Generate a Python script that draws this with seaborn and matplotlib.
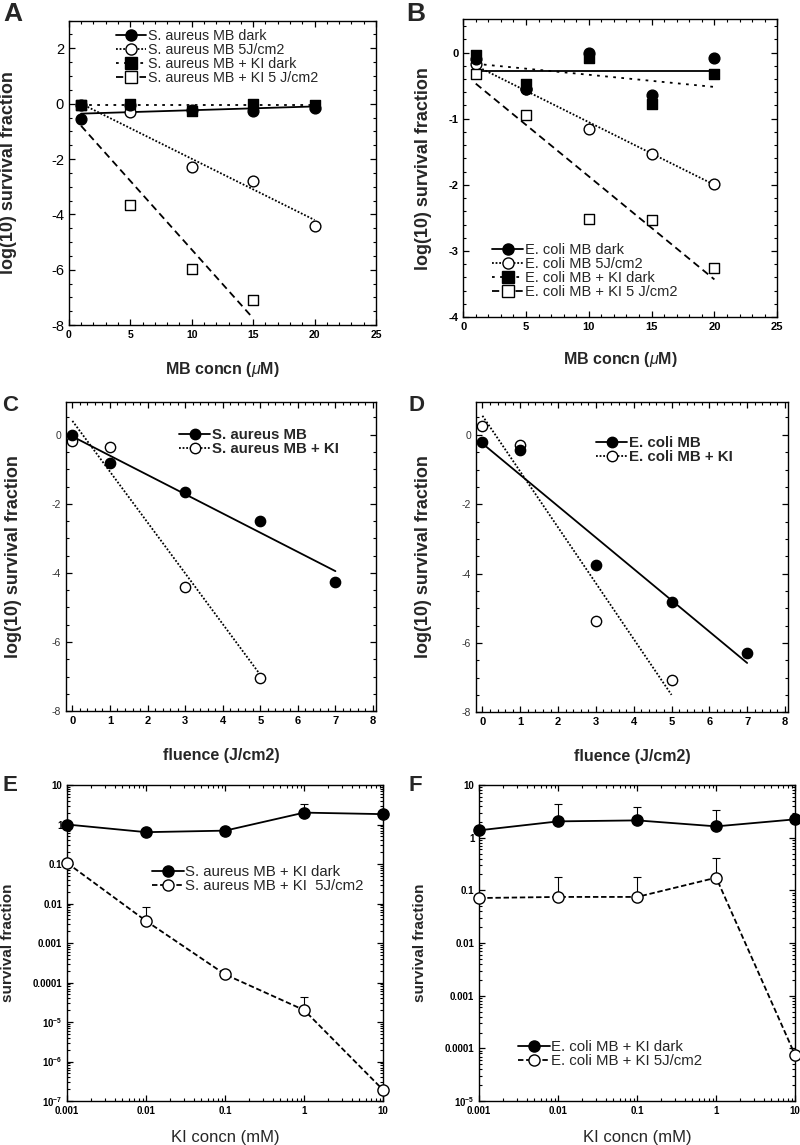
import numpy as np
import matplotlib
matplotlib.use("Agg")
import matplotlib.pyplot as plt
from matplotlib.lines import Line2D
from matplotlib.ticker import MultipleLocator, LogLocator, NullFormatter, FixedLocator, FixedFormatter
import seaborn as sns

# ---- data ----
mb_conc = [1, 5, 10, 15, 20]
fluence = [0, 1, 3, 5, 7]
fluence_ki = [0, 1, 3, 5]
ki_conc = [0.001, 0.01, 0.1, 1, 10]

# A: S. aureus vs MB concentration (log10 survival)
a_dark = [-0.55, -0.05, -0.22, -0.25, -0.15]
a_light = [-0.05, -0.3, -2.3, -2.8, -4.42]
a_ki_dark = [-0.03, 0.0, -0.25, -0.02, -0.03]
a_ki_light_x = [1, 5, 10, 15]
a_ki_light = [-0.05, -3.65, -5.98, -7.1]
# fitted lines, value at start and end of the x range
a_fit_x = [1, 20]
a_fit_dark = [-0.36, -0.1]
a_fit_light = [0.0, -4.2]
a_fit_ki_dark = [-0.04, -0.04]
a_fit_ki_light_x = [1, 15]
a_fit_ki_light = [-0.8, -7.75]

# B: E. coli vs MB concentration
b_dark = [-0.1, -0.55, 0.0, -0.64, -0.09]
b_light = [-0.17, -0.55, -1.15, -1.53, -1.98]
b_ki_dark = [-0.03, -0.47, -0.08, -0.78, -0.32]
b_ki_light = [-0.32, -0.94, -2.51, -2.53, -3.26]
b_fit_x = [1, 20]
b_fit_dark = [-0.28, -0.28]
b_fit_light = [-0.2, -2.0]
b_fit_ki_dark = [-0.17, -0.52]
b_fit_ki_light = [-0.47, -3.43]

# C: S. aureus vs fluence
c_mb = [0.0, -0.83, -1.66, -2.49, -4.25]
c_ki = [-0.18, -0.35, -4.42, -7.03]
c_fit_mb_x = [0, 7]
c_fit_mb = [-0.05, -3.95]
c_fit_ki_x = [0, 5]
c_fit_ki = [0.4, -6.95]

# D: E. coli vs fluence
d_mb = [-0.2, -0.45, -3.76, -4.83, -6.28]
d_ki = [0.26, -0.29, -5.37, -7.06]
d_fit_mb_x = [0, 7]
d_fit_mb = [-0.25, -6.58]
d_fit_ki_x = [0, 5]
d_fit_ki = [0.55, -7.5]

# E: S. aureus vs KI concentration (survival fraction, upper error bar end)
e_dark = [1.0, 0.64, 0.70, 2.0, 1.83]
e_dark_hi = [1.0, 0.64, 0.70, 3.4, 1.83]
e_light = [0.106, 0.0036, 1.6e-4, 2.0e-5, 1.9e-7]
e_light_hi = [0.106, 0.0081, 1.9e-4, 4.2e-5, 1.9e-7]

# F: E. coli vs KI concentration
f_dark = [1.38, 2.04, 2.13, 1.64, 2.23]
f_dark_hi = [1.38, 4.4, 3.8, 3.4, 2.23]
f_light = [0.0715, 0.075, 0.075, 0.174, 7.4e-5]
f_light_hi = [0.0715, 0.18, 0.18, 0.41, 7.4e-5]

sns.set_theme(style="ticks")
plt.rcParams["font.family"] = ["Liberation Sans", "DejaVu Sans"]
plt.rcParams["axes.unicode_minus"] = False
plt.rcParams["mathtext.fontset"] = "custom"
plt.rcParams["mathtext.rm"] = "Liberation Sans"
plt.rcParams["mathtext.it"] = "Liberation Sans:italic"
plt.rcParams["mathtext.bf"] = "Liberation Sans:bold"

SOLID = "-"
FINE = (0, (1, 1))
DOTS = (0, (1.5, 3))
DASH = (0, (4, 2.5))
EDASH = (0, (3, 1.5))
YLAB = "log(10) survival fraction"


def fit_line(ax, x, y, ls):
    sns.lineplot(x=x, y=y, ax=ax, color="black", linewidth=1.3, linestyle=ls)


def points(ax, x, y, marker, filled, size=60):
    sns.scatterplot(x=x, y=y, ax=ax, marker=marker, s=size,
                    color="black" if filled else "white",
                    edgecolor="black", linewidth=1.0, zorder=5, clip_on=False)


def handle(ls, marker, filled, ms=8):
    return Line2D([], [], color="black", linestyle=ls, linewidth=1.3, marker=marker,
                  markersize=ms, markerfacecolor="black" if filled else "white",
                  markeredgecolor="black")


def style_axes(ax):
    ax.tick_params(which="both", direction="in", top=True, right=True, colors="black")
    ax.tick_params(which="major", length=4, width=0.9)
    ax.tick_params(which="minor", length=2.2, width=0.8)
    for s in ax.spines.values():
        s.set_linewidth(1.0)
        s.set_color("black")


def letter(x, y, s, size):
    fig.text(x, y, s, fontsize=size, fontweight="bold", va="top")


fig = plt.figure(figsize=(8, 11.45), dpi=100)

# ---- A ----
ax = fig.add_axes([0.086, 0.716, 0.384, 0.266])
fit_line(ax, a_fit_x, a_fit_dark, SOLID)
fit_line(ax, a_fit_x, a_fit_light, FINE)
fit_line(ax, a_fit_x, a_fit_ki_dark, DOTS)
fit_line(ax, a_fit_ki_light_x, a_fit_ki_light, DASH)
points(ax, mb_conc, a_light, "o", False)
points(ax, a_ki_light_x, a_ki_light, "s", False)
points(ax, mb_conc, a_dark, "o", True)
points(ax, mb_conc, a_ki_dark, "s", True)
ax.set_xlim(0, 25)
ax.set_ylim(-8, 3)
ax.xaxis.set_major_locator(MultipleLocator(5))
ax.xaxis.set_minor_locator(MultipleLocator(1))
ax.yaxis.set_major_locator(FixedLocator([-8, -6, -4, -2, 0, 2]))
ax.yaxis.set_minor_locator(MultipleLocator(0.5))
style_axes(ax)
ax.tick_params(axis="x", labelsize=7.5)
ax.tick_params(axis="y", labelsize=10.5)
for t in ax.get_xticklabels():
    t.set_fontweight("bold")
ax.set_xlabel(r"MB concn ($\mathit{\mu}$M)", fontsize=11.5, fontweight="bold")
ax.set_ylabel(YLAB, fontsize=13, fontweight="bold")
ax.xaxis.set_label_coords(0.5, -0.115)
ax.yaxis.set_label_coords(-0.168, 0.5)
ax.legend([handle(SOLID, "o", True), handle(FINE, "o", False),
           handle(DOTS, "s", True), handle(DASH, "s", False)],
          ["S. aureus MB dark", "S. aureus MB 5J/cm2",
           "S. aureus MB + KI dark", "S. aureus MB + KI 5 J/cm2"],
          loc="upper left", bbox_to_anchor=(0.13, 0.995), frameon=False, fontsize=10.3,
          handlelength=2.1, handletextpad=0.12, labelspacing=0.0, borderpad=0)
letter(0.004, 0.998, "A", 19)

# ---- B ----
ax = fig.add_axes([0.579, 0.723, 0.3925, 0.26])
fit_line(ax, b_fit_x, b_fit_dark, SOLID)
fit_line(ax, b_fit_x, b_fit_light, FINE)
fit_line(ax, b_fit_x, b_fit_ki_dark, DOTS)
fit_line(ax, b_fit_x, b_fit_ki_light, DASH)
points(ax, mb_conc, b_light, "o", False)
points(ax, mb_conc, b_ki_light, "s", False)
points(ax, mb_conc, b_dark, "o", True)
points(ax, mb_conc, b_ki_dark, "s", True)
ax.set_xlim(0, 25)
ax.set_ylim(-4, 0.5)
ax.xaxis.set_major_locator(MultipleLocator(5))
ax.xaxis.set_minor_locator(MultipleLocator(1))
ax.yaxis.set_major_locator(FixedLocator([-4, -3, -2, -1, 0]))
ax.yaxis.set_minor_locator(MultipleLocator(0.2))
style_axes(ax)
ax.tick_params(axis="both", labelsize=8)
for t in ax.get_xticklabels() + ax.get_yticklabels():
    t.set_fontweight("bold")
ax.set_xlabel(r"MB concn ($\mathit{\mu}$M)", fontsize=11.5, fontweight="bold")
ax.set_ylabel(YLAB, fontsize=13, fontweight="bold")
ax.xaxis.set_label_coords(0.5, -0.11)
ax.yaxis.set_label_coords(-0.099, 0.5)
ax.legend([handle(SOLID, "o", True), handle(FINE, "o", False),
           handle(DOTS, "s", True), handle(DASH, "s", False)],
          ["E. coli MB dark", "E. coli MB 5J/cm2",
           "E. coli MB + KI dark", "E. coli MB + KI 5 J/cm2"],
          loc="lower left", bbox_to_anchor=(0.07, 0.035), frameon=False, fontsize=10.5,
          handlelength=2.1, handletextpad=0.12, labelspacing=0.0, borderpad=0)
letter(0.508, 0.998, "B", 19)

# ---- C and D ----
for pos, lab, lx, mb, ki, fmb, fki, fmbx, fkix, names, lpos in [
    ([0.0825, 0.379, 0.3875, 0.27], "C", 0.0, c_mb, c_ki, c_fit_mb, c_fit_ki,
     c_fit_mb_x, c_fit_ki_x, ["S. aureus MB", "S. aureus MB + KI"], (0.34, 0.94)),
    ([0.595, 0.378, 0.39, 0.271], "D", 0.508, d_mb, d_ki, d_fit_mb, d_fit_ki,
     d_fit_mb_x, d_fit_ki_x, ["E. coli MB", "E. coli MB + KI"], (0.36, 0.915)),
]:
    ax = fig.add_axes(pos)
    fit_line(ax, fmbx, fmb, SOLID)
    fit_line(ax, fkix, fki, FINE)
    points(ax, fluence_ki, ki, "o", False, 55)
    points(ax, fluence, mb, "o", True, 55)
    ax.set_xlim(-0.17, 8.08)
    ax.set_ylim(-8, 0.95)
    ax.xaxis.set_major_locator(MultipleLocator(1))
    ax.xaxis.set_minor_locator(MultipleLocator(0.2))
    ax.yaxis.set_major_locator(FixedLocator([-8, -6, -4, -2, 0]))
    ax.yaxis.set_minor_locator(MultipleLocator(0.5))
    style_axes(ax)
    ax.tick_params(axis="x", labelsize=8)
    ax.tick_params(axis="y", labelsize=7.5, labelcolor="#333333")
    for t in ax.get_xticklabels():
        t.set_fontweight("bold")
    ax.set_xlabel("fluence (J/cm2)", fontsize=11.5, fontweight="bold")
    ax.set_ylabel(YLAB, fontsize=13, fontweight="bold")
    ax.xaxis.set_label_coords(0.5, -0.12)
    ax.yaxis.set_label_coords(-0.142, 0.5)
    ax.legend([handle(SOLID, "o", True, 7.5), handle(FINE, "o", False, 7.5)], names,
              loc="upper left", bbox_to_anchor=lpos, frameon=False,
              prop={"size": 10.8, "weight": "bold"},
              handlelength=2.1, handletextpad=0.1, labelspacing=0.0, borderpad=0)
    letter(lx + 0.003, 0.655, lab, 16)

# ---- E and F ----
ylab = {1e-7: r"$\mathbf{10^{-7}}$", 1e-6: r"$\mathbf{10^{-6}}$", 1e-5: r"$\mathbf{10^{-5}}$",
        1e-4: "0.0001", 1e-3: "0.001", 1e-2: "0.01", 1e-1: "0.1", 1: "1", 10: "10"}
for pos, lab, lx, dark, dark_hi, light, light_hi, ylo, names, lpos, lloc in [
    ([0.084, 0.0384, 0.395, 0.276], "E", 0.0, e_dark, e_dark_hi, e_light, e_light_hi, 1e-7,
     ["S. aureus MB + KI dark", "S. aureus MB + KI  5J/cm2"], (0.245, 0.77), "upper left"),
    ([0.599, 0.0384, 0.395, 0.276], "F", 0.508, f_dark, f_dark_hi, f_light, f_light_hi, 1e-5,
     ["E. coli MB + KI dark", "E. coli MB + KI 5J/cm2"], (0.1, 0.08), "lower left"),
]:
    ax = fig.add_axes(pos)
    ax.set_xscale("log")
    ax.set_yscale("log")
    ax.errorbar(ki_conc, dark, yerr=[np.zeros(5), np.array(dark_hi) - np.array(dark)],
                fmt="none", ecolor="black", elinewidth=0.8, capsize=3, capthick=0.8)
    ax.errorbar(ki_conc, light, yerr=[np.zeros(5), np.array(light_hi) - np.array(light)],
                fmt="none", ecolor="black", elinewidth=0.8, capsize=3, capthick=0.8)
    sns.lineplot(x=ki_conc, y=dark, ax=ax, color="black", linewidth=1.3)
    sns.lineplot(x=ki_conc, y=light, ax=ax, color="black", linewidth=1.3, linestyle=EDASH)
    points(ax, ki_conc, light, "o", False, 65)
    points(ax, ki_conc, dark, "o", True, 65)
    ax.set_xlim(0.001, 10)
    ax.set_ylim(ylo, 10)
    ax.xaxis.set_major_locator(FixedLocator(ki_conc))
    ax.xaxis.set_major_formatter(FixedFormatter(["0.001", "0.01", "0.1", "1", "10"]))
    ax.xaxis.set_minor_locator(LogLocator(base=10, subs=np.arange(2, 10)))
    ax.xaxis.set_minor_formatter(NullFormatter())
    yt = [v for v in sorted(ylab) if v >= ylo]
    ax.yaxis.set_major_locator(FixedLocator(yt))
    ax.yaxis.set_major_formatter(FixedFormatter([ylab[v] for v in yt]))
    ax.yaxis.set_minor_locator(LogLocator(base=10, subs=np.arange(2, 10)))
    ax.yaxis.set_minor_formatter(NullFormatter())
    style_axes(ax)
    ax.tick_params(axis="both", labelsize=7)
    for t in ax.get_xticklabels() + ax.get_yticklabels():
        t.set_fontweight("bold")
    ax.set_xlabel("KI concn (mM)", fontsize=12)
    ax.set_ylabel("survival fraction", fontsize=11, fontweight="bold")
    ax.xaxis.set_label_coords(0.5, -0.092)
    ax.yaxis.set_label_coords(-0.165, 0.5)
    ax.legend([handle(SOLID, "o", True), handle(EDASH, "o", False)], names,
              loc=lloc, bbox_to_anchor=lpos, frameon=False, fontsize=10.8,
              handlelength=2.1, handletextpad=0.1, labelspacing=0.0, borderpad=0)
    letter(lx + 0.003, 0.323, lab, 16)

fig.savefig("out.png", dpi=100, facecolor="white")
